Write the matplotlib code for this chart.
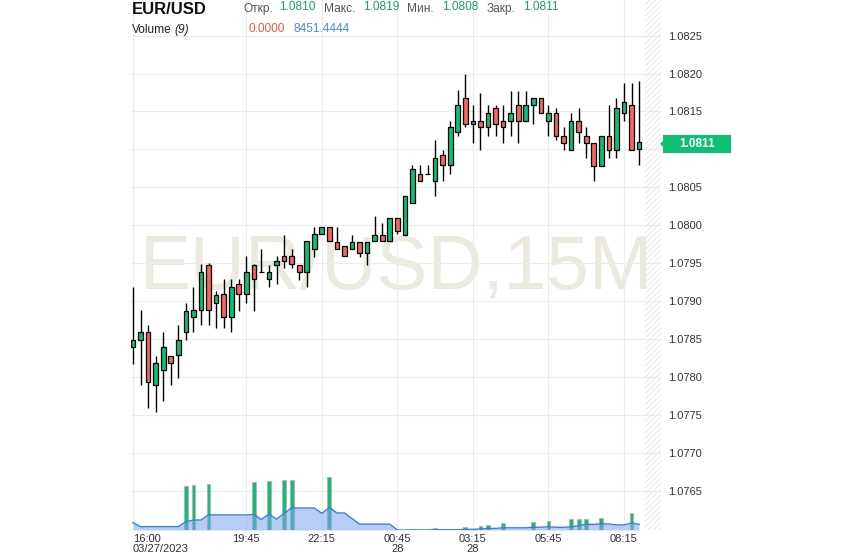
import numpy as np
import matplotlib
matplotlib.use("Agg")
import matplotlib.pyplot as plt
from matplotlib.patches import Rectangle, Polygon

plt.rcParams['font.family'] = ['Liberation Sans', 'DejaVu Sans']

### OHLC, 15 minute candles from 03/27 16:00 to 03/28 08:45 ###
open_ = [1.07839, 1.07848, 1.07859, 1.07789, 1.07809, 1.07828, 1.07829, 1.07859, 1.07879, 1.07888,
         1.07948, 1.07898, 1.07909, 1.07879, 1.07923, 1.07909, 1.07948, 1.07938, 1.07929, 1.07948,
         1.07959, 1.07959, 1.07948, 1.07938, 1.07968, 1.07988, 1.07998, 1.07978, 1.07973, 1.07968,
         1.07978, 1.07963, 1.07979, 1.07987, 1.07979, 1.08009, 1.07987, 1.08029, 1.08068, 1.08068,
         1.08058, 1.08093, 1.08079, 1.08123, 1.08168, 1.08133, 1.08138, 1.08129, 1.08154, 1.08138,
         1.08138, 1.08158, 1.08138, 1.08158, 1.08168, 1.08138, 1.08148, 1.08118, 1.08099, 1.08138,
         1.08118, 1.08108, 1.08078, 1.08118, 1.08099, 1.08148, 1.08158, 1.08100]
high = [1.07918, 1.07888, 1.07868, 1.07828, 1.07859, 1.07828, 1.07868, 1.07898, 1.07918, 1.07949,
        1.07950, 1.07913, 1.07929, 1.07929, 1.07929, 1.07959, 1.07949, 1.07968, 1.07947, 1.07959,
        1.07987, 1.07968, 1.07948, 1.07979, 1.07998, 1.07998, 1.07998, 1.07998, 1.07973, 1.07987,
        1.07978, 1.07978, 1.08012, 1.08003, 1.08009, 1.08009, 1.08038, 1.08079, 1.08079, 1.08079,
        1.08113, 1.08099, 1.08138, 1.08178, 1.08199, 1.08158, 1.08174, 1.08158, 1.08158, 1.08158,
        1.08177, 1.08177, 1.08177, 1.08168, 1.08168, 1.08158, 1.08155, 1.08129, 1.08148, 1.08154,
        1.08129, 1.08108, 1.08118, 1.08158, 1.08168, 1.08188, 1.08188, 1.08190]
low = [1.07817, 1.07789, 1.07759, 1.07754, 1.07768, 1.07789, 1.07798, 1.07849, 1.07859, 1.07868,
       1.07868, 1.07864, 1.07864, 1.07859, 1.07887, 1.07898, 1.07887, 1.07938, 1.07918, 1.07923,
       1.07943, 1.07943, 1.07928, 1.07918, 1.07958, 1.07988, 1.07979, 1.07968, 1.07959, 1.07968,
       1.07958, 1.07948, 1.07979, 1.07979, 1.07979, 1.07988, 1.07987, 1.08029, 1.08058, 1.08068,
       1.08038, 1.08058, 1.08068, 1.08118, 1.08129, 1.08108, 1.08099, 1.08118, 1.08118, 1.08108,
       1.08118, 1.08108, 1.08138, 1.08133, 1.08148, 1.08118, 1.08113, 1.08099, 1.08099, 1.08108,
       1.08088, 1.08058, 1.08078, 1.08088, 1.08088, 1.08138, 1.08099, 1.08080]
close = [1.07849, 1.07859, 1.07793, 1.07818, 1.07839, 1.07818, 1.07849, 1.07887, 1.07888, 1.07938,
         1.07888, 1.07908, 1.07879, 1.07918, 1.07909, 1.07938, 1.07929, 1.07938, 1.07938, 1.07953,
         1.07953, 1.07949, 1.07938, 1.07979, 1.07988, 1.07998, 1.07979, 1.07968, 1.07959, 1.07978,
         1.07963, 1.07978, 1.07987, 1.07979, 1.08009, 1.07993, 1.08038, 1.08074, 1.08058, 1.08068,
         1.08088, 1.08079, 1.08129, 1.08158, 1.08133, 1.08138, 1.08129, 1.08148, 1.08133, 1.08129,
         1.08148, 1.08138, 1.08158, 1.08168, 1.08148, 1.08148, 1.08118, 1.08108, 1.08138, 1.08123,
         1.08108, 1.08078, 1.08118, 1.08099, 1.08154, 1.08163, 1.08099, 1.08110]

volume = [0, 0, 0, 0, 0, 0, 0, 65300, 66800, 0,
          68200, 0, 0, 0, 0, 0, 71200, 0, 72700, 0,
          74100, 74100, 0, 0, 0, 0, 77700, 0, 0, 0,
          0, 0, 0, 0, 0, 0, 0, 1000, 0, 0,
          2500, 0, 0, 0, 4900, 0, 6300, 7800, 0, 9900,
          0, 0, 0, 12200, 0, 13700, 0, 0, 15800, 16700,
          16700, 0, 18100, 0, 0, 0, 24563, 0]
# the 8 candles before 16:00, needed for the 9-period average
prior_volume = [53000, 0, 0, 0, 0, 0, 0, 44200]

tick_pos = [0, 15, 25, 35, 45, 55, 65]
tick_labels = ['16:00\n03/27/2023', '19:45', '22:15', '00:45\n28', '03:15\n28', '05:45', '08:15']
price_ticks = [1.0765, 1.0770, 1.0775, 1.0780, 1.0785, 1.0790, 1.0795,
               1.0800, 1.0805, 1.0810, 1.0815, 1.0820, 1.0825]

GREEN = '#0cbf75'
RED = '#f4665e'
W, H = 844, 558

open_ = np.array(open_); close = np.array(close)
high = np.array(high); low = np.array(low)
volume = np.array(volume, dtype=float)
x = np.arange(len(close))

fig = plt.figure(figsize=(W / 100, H / 100), dpi=100)
ax = fig.add_axes([131.1 / W, 28 / H, 529.9 / W, 530 / H])
ax.set_xlim(-0.25, 69.9)
ax.set_ylim(1.07598, 1.08297)

### volume axis (twinx moves the price ticks to the left, so it comes first) ###
axv = ax.twinx()
axv.set_ylim(0, 530 * 1474)
axv.set_yticks([])
for s in axv.spines.values():
    s.set_visible(False)

### grid / axes ###
ax.set_yticks(price_ticks)
ax.set_yticklabels(['%.4f' % p for p in price_ticks])
ax.set_xticks(tick_pos)
ax.set_xticklabels(tick_labels)
ax.yaxis.tick_right()
ax.grid(True, color='#ececec', lw=0.8)
ax.set_axisbelow(True)
ax.tick_params(length=0, labelsize=8, colors='#333333')
ax.tick_params(axis='y', pad=5, labelright=True, labelleft=False)
ax.tick_params(axis='x', pad=3)
for lab in ax.get_xticklabels():
    lab.set_linespacing(0.95)
ax.get_xticklabels()[0].set_ha('left')
for s in ax.spines.values():
    s.set_visible(False)

### watermark ###
ax.text(0.5, 0.4566, 'EUR/USD,15M', transform=ax.transAxes, ha='center', va='baseline',
        fontsize=55, color='#ece9df', zorder=0.5)

### future zone hatch ###
plt.rcParams['hatch.linewidth'] = 0.6
ax.axvspan(67.75, 69.9, facecolor='none', edgecolor='#e4e4e4', hatch='//////', lw=0, zorder=0.6)

### candles ###
up = close >= open_
colors = np.where(up, GREEN, RED)
ax.vlines(x, low, high, color='black', lw=1.0, zorder=2)
body = np.abs(close - open_)
body = np.where(body < 1e-6, 1e-6, body)
ax.bar(x, body, bottom=np.minimum(open_, close), width=0.62, color=colors,
       edgecolor='black', linewidth=0.9, zorder=3)

### volume bars + MA(9) ###
nz = volume > 0
axv.bar(x[nz], volume[nz], width=0.5, color=GREEN, edgecolor='#b4b4b4', linewidth=0.8, zorder=2)
ma = np.convolve(np.r_[prior_volume, volume], np.ones(9) / 9, mode='valid')
axv.fill_between(x, 0, ma, color='#7aa6ee', alpha=0.55, lw=0, zorder=3)
axv.plot(x, ma, color='#3f7be0', lw=1.0, zorder=4)

### last price label (sits over the 1.0810 tick label, as in the terminal) ###
yc = ax.transData.transform((0, close[-1]))[1] - 2
fig.patches.append(Rectangle((663 / W, (yc - 9) / H), 68 / W, 18 / H, transform=fig.transFigure,
                             facecolor=GREEN, edgecolor='none'))
fig.patches.append(Polygon([(660 / W, yc / H), (664 / W, (yc + 4) / H), (664 / W, (yc - 4) / H)],
                           closed=True, transform=fig.transFigure, facecolor=GREEN, edgecolor='none'))
fig.text(697 / W, yc / H, '%.4f' % close[-1], ha='center', va='center', color='white',
         fontsize=8.5, fontweight='bold')

### header ###
def ftxt(px, py, s, **kw):
    fig.text(px / W, 1 - py / H, s, va='baseline', **kw)

ftxt(131.5, 13.5, 'EUR/USD', fontsize=12, fontweight='bold', color='#111111')
hdr_labels = ['Откр.', 'Макс.', 'Мин.', 'Закр.']
hdr_values = ['1.0810', '1.0819', '1.0808', '1.0811']
hdr_lx = [243, 324, 407.3, 486.7]
hdr_vx = [279.3, 362.7, 442.3, 522.7]
for l, v, lx, vx in zip(hdr_labels, hdr_values, hdr_lx, hdr_vx):
    ftxt(lx, 11.7, l, fontsize=8.6, color='#555555')
    ftxt(vx, 10.0, v, fontsize=8.6, color='#17a35e')
ftxt(131.7, 33.3, 'Volume', fontsize=8.6, color='#222222')
ftxt(174, 33.3, '(9)', fontsize=8.6, color='#222222', style='italic')
ftxt(248.3, 31.7, '0.0000', fontsize=8.6, color='#e35b52')
ftxt(293.3, 31.7, '8451.4444', fontsize=8.6, color='#4f86e6')

fig.savefig('out.png', dpi=100)
